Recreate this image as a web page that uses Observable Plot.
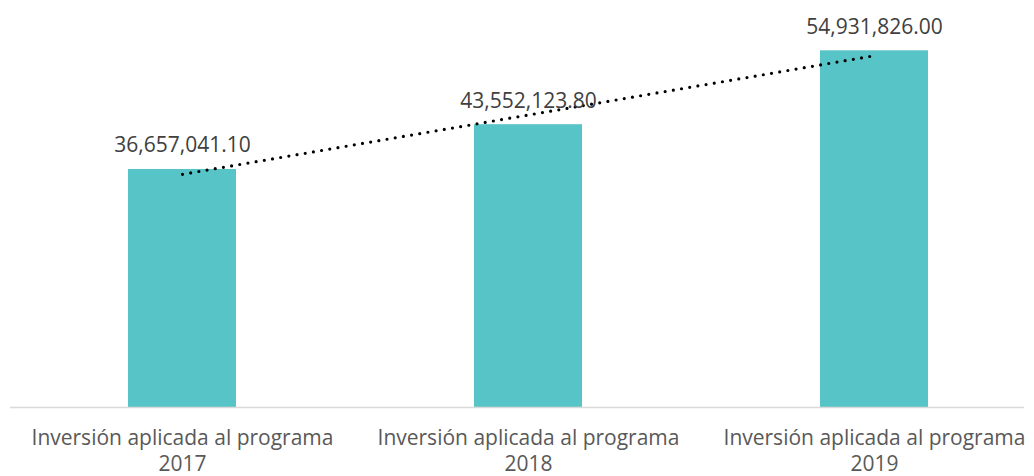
<!DOCTYPE html>
<html>
<head>
<meta charset="utf-8">
<script src="https://cdn.jsdelivr.net/npm/d3@7"></script>
<script src="https://cdn.jsdelivr.net/npm/@observablehq/plot@0.6"></script>
<style>
  body { margin: 0; background: #fff; }
</style>
</head>
<body>
<div id="chart"></div>
<script>
const years = ["2017", "2018", "2019"];
const values = [36657041.10, 43552123.80, 54931826.00];
const labelPrefix = "Inversión aplicada al programa";

const data = years.map((y, i) => ({ year: y, value: values[i] }));

// linear trend (least squares) over category index
const xs = values.map((_, i) => i + 1);
const mx = d3.mean(xs), my = d3.mean(values);
const slope = d3.sum(xs.map((x, i) => (x - mx) * (values[i] - my))) / d3.sum(xs.map(x => (x - mx) ** 2));
const intercept = my - slope * mx;
const trend = years.map((y, i) => ({ year: y, value: intercept + slope * (i + 1) }));

const fmt = d3.format(",.2f");

const chart = Plot.plot({
  width: 1034,
  height: 476,
  marginTop: 0,
  marginBottom: 69,
  marginLeft: 10,
  marginRight: 10,
  style: { fontFamily: "Open Sans", background: "#fff" },
  x: { domain: years, range: [9, 1047], paddingInner: 0.688, paddingOuter: 0.344, align: 0.5 },
  y: { domain: [0, 62.68e6], axis: null },
  marks: [
    Plot.barY(data, { x: "year", y: "value", fill: "#57C4C8" }),
    Plot.ruleY([0], { stroke: "#D9D9D9", strokeWidth: 1.5 }),
    Plot.line(trend, {
      x: "year", y: "value", stroke: "#000", strokeWidth: 3.2,
      strokeDasharray: "0,8.3", strokeLinecap: "round"
    }),
    Plot.text(data, {
      x: "year", y: "value", text: d => fmt(d.value),
      lineAnchor: "bottom", dy: -17, fontSize: 21, fill: "#404040"
    }),
    Plot.axisX({
      tickSize: 0, tickPadding: 19, fontSize: 21, lineHeight: 1.25,
      tickFormat: d => labelPrefix + "\n" + d, color: "#595959", label: null
    })
  ]
});
document.getElementById("chart").appendChild(chart);
</script>
</body>
</html>
